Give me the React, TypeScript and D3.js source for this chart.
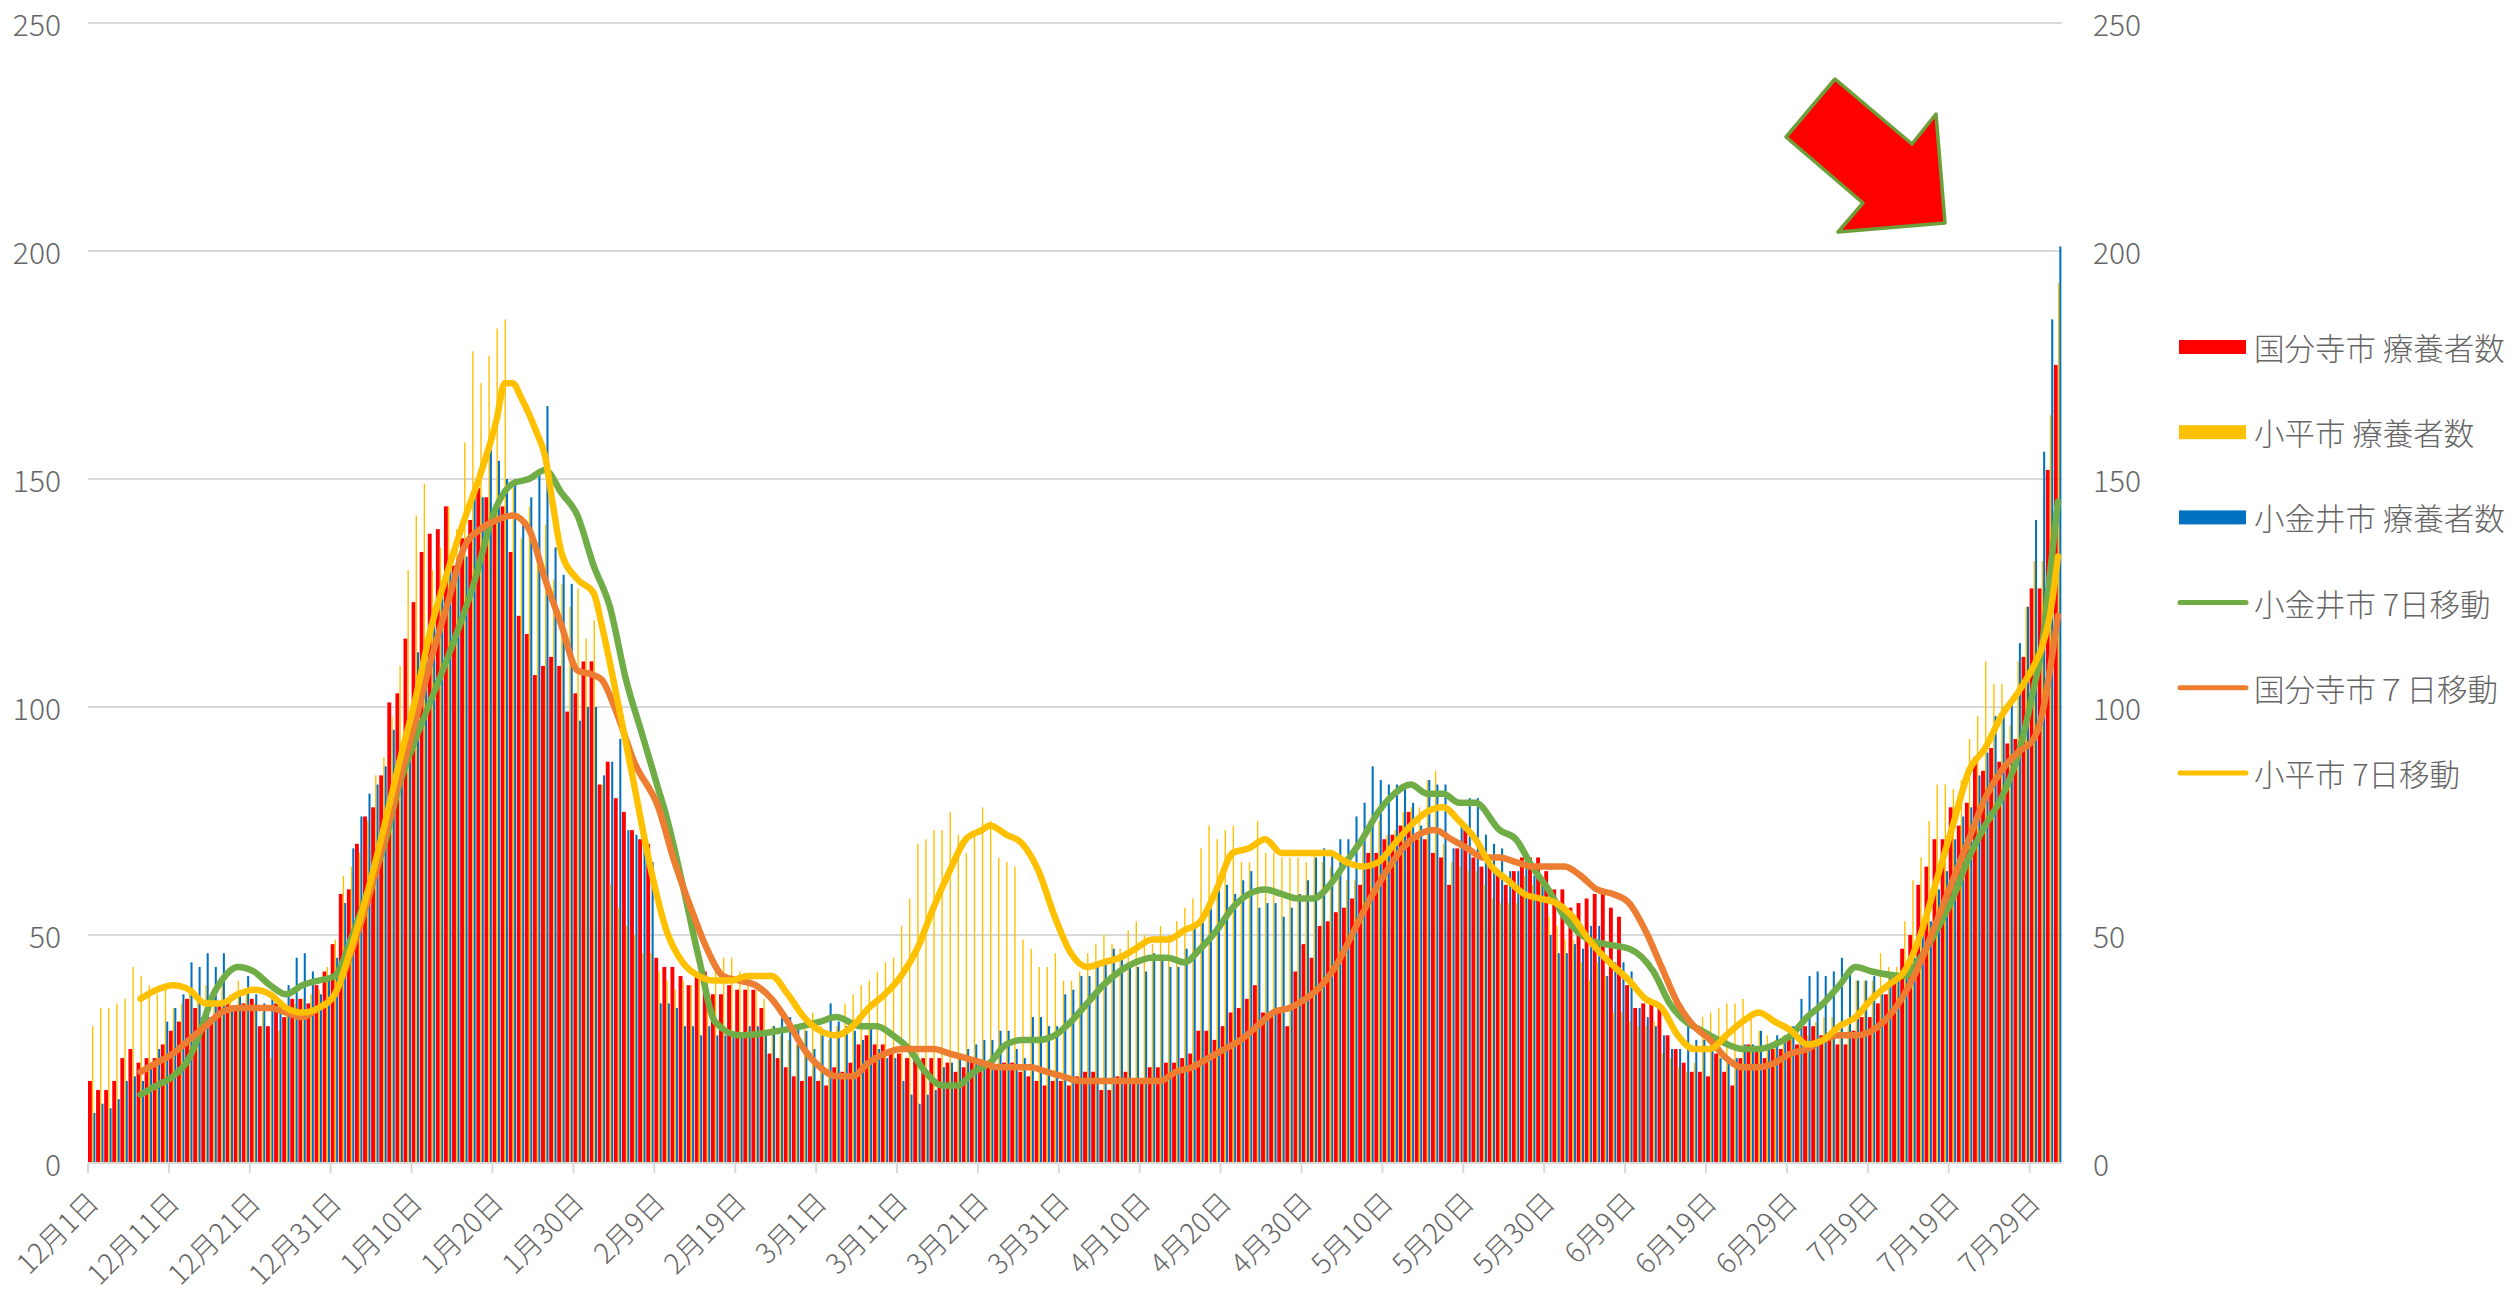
import React from 'react';
import * as d3 from 'd3';

const W = 2517;
const H = 1299;
const START = new Date(2020, 11, 1);
const DAY_COUNT = 244;

// daily counts, Dec 1 2020 .. Aug 1 2021 (one row per month)
const kokubunji = [
  18, 16, 16, 18, 23, 25, 22, 23, 23, 26, 29, 31, 36, 34, 32, 32, 35, 36, 34, 35, 36, 30, 30, 35, 32, 36, 36, 35, 39, 42, 48,
  59, 60, 70, 76, 78, 85, 101, 103, 115, 123, 134, 138, 139, 144, 131, 137, 141, 148, 146, 143, 144, 134, 120, 116, 107, 109, 111, 109, 99, 103, 110,
  110, 83, 88, 80, 77, 73, 71, 70, 45, 43, 43, 41, 39, 41, 42, 37, 37, 39, 38, 38, 38, 34, 24, 23, 21, 19, 18, 19,
  18, 17, 21, 20, 22, 26, 28, 26, 26, 25, 24, 23, 23, 23, 23, 23, 22, 20, 21, 23, 22, 21, 21, 22, 22, 20, 19, 18, 17, 18, 18,
  17, 19, 20, 20, 16, 16, 19, 20, 18, 18, 21, 21, 22, 22, 23, 24, 29, 29, 27, 30, 33, 34, 36, 39, 33, 33, 33, 30, 42, 48,
  45, 52, 53, 55, 56, 58, 61, 68, 68, 71, 72, 74, 77, 71, 71, 68, 67, 61, 69, 73, 67, 65, 65, 64, 61, 64, 67, 67, 67, 64, 60,
  60, 56, 57, 58, 59, 60, 56, 54, 39, 34, 35, 35, 35, 28, 25, 22, 20, 20, 19, 24, 20, 17, 23, 26, 25, 23, 25, 25, 28, 26,
  30, 30, 28, 27, 26, 26, 29, 32, 32, 35, 37, 41, 47, 50, 61, 65, 71, 71, 78, 74, 79, 89, 86, 91, 88, 92, 93, 111, 126, 126, 152,
  175,
];

const kodaira = [
  30, 34, 34, 35, 36, 43, 41, 39, 37, 39, 34, 35, 38, 36, 39, 37, 40, 37, 40, 38, 35, 33, 23, 29, 34, 35, 36, 37, 38, 43, 49,
  63, 65, 68, 75, 85, 89, 98, 109, 130, 142, 149, 130, 135, 144, 139, 158, 178, 171, 177, 183, 185, 148, 137, 144, 136, 140, 128, 127, 122, 126, 115,
  119, 83, 61, 56, 52, 50, 46, 46, 42, 40, 38, 40, 39, 41, 40, 43, 45, 45, 42, 40, 38, 36, 30, 28, 27, 26, 30, 33,
  30, 27, 30, 35, 37, 39, 40, 42, 44, 45, 52, 58, 70, 71, 73, 73, 77, 72, 68, 73, 78, 75, 67, 66, 65, 49, 47, 43, 43, 46, 40,
  40, 42, 46, 48, 50, 48, 47, 51, 53, 50, 48, 52, 50, 53, 56, 58, 69, 74, 71, 73, 74, 66, 66, 75, 68, 68, 67, 67, 67, 66,
  68, 66, 65, 64, 62, 62, 70, 73, 75, 72, 73, 77, 78, 78, 84, 86, 70, 66, 65, 64, 64, 61, 58, 57, 57, 57, 63, 61, 62, 54, 52,
  49, 49, 44, 40, 44, 41, 33, 33, 31, 30, 30, 31, 24, 23, 21, 20, 22, 32, 33, 34, 35, 35, 36, 32, 29, 28, 27, 28, 30, 28,
  28, 31, 32, 32, 31, 30, 40, 40, 40, 46, 43, 43, 53, 62, 67, 75, 83, 83, 82, 84, 93, 98, 110, 105, 105, 96, 110, 122, 132, 132, 164,
  193,
];

const koganei = [
  11, 13, 12, 14, 18, 19, 18, 21, 25, 31, 34, 37, 44, 43, 46, 43, 46, 34, 37, 41, 37, 35, 37, 35, 39, 45, 46, 42, 37, 40, 45,
  57, 69, 76, 81, 83, 87, 95, 89, 99, 112, 113, 121, 126, 130, 131, 133, 147, 146, 157, 154, 150, 150, 141, 146, 151, 166, 135, 129, 127, 97, 100,
  100, 85, 88, 93, 73, 72, 70, 66, 35, 35, 34, 30, 30, 28, 30, 28, 28, 28, 28, 30, 30, 28, 30, 32, 32, 30, 29, 25,
  28, 35, 31, 30, 29, 27, 30, 25, 23, 23, 18, 15, 13, 15, 16, 21, 22, 23, 25, 26, 27, 27, 29, 29, 25, 23, 32, 32, 30, 30, 37,
  38, 41, 41, 43, 44, 47, 45, 43, 43, 42, 46, 45, 43, 43, 47, 52, 54, 57, 61, 61, 59, 62, 64, 56, 57, 57, 54, 56, 59, 62,
  67, 69, 68, 71, 71, 76, 79, 87, 84, 83, 83, 82, 79, 74, 84, 83, 83, 69, 74, 80, 80, 72, 70, 69, 64, 64, 67, 63, 61, 50, 46,
  46, 48, 47, 52, 52, 41, 44, 44, 42, 34, 32, 30, 28, 25, 25, 30, 27, 27, 25, 23, 23, 23, 26, 26, 29, 26, 28, 28, 30, 36,
  41, 42, 41, 42, 45, 43, 40, 40, 41, 37, 41, 41, 43, 45, 50, 53, 60, 64, 71, 76, 78, 85, 90, 98, 100, 102, 114, 122, 141, 156, 185,
  201,
];

// 7-day moving averages, read at points along each curve
const koganeiMA: [string, number][] = [
  ['12/7', 15], ['12/9', 17], ['12/11', 19], ['12/13', 23], ['12/14', 27], ['12/16', 37], ['12/17', 40], ['12/19', 43],
  ['12/21', 42], ['12/23', 39], ['12/25', 37], ['12/27', 39], ['12/29', 40], ['12/31', 41], ['1/2', 49], ['1/4', 59],
  ['1/6', 69], ['1/8', 83], ['1/10', 93], ['1/12', 102], ['1/14', 111], ['1/17', 126], ['1/20', 144], ['1/22', 149],
  ['1/24', 150], ['1/26', 152], ['1/28', 147], ['1/30', 142], ['2/1', 131], ['2/3', 122], ['2/5', 106], ['2/7', 94],
  ['2/9', 82], ['2/10', 76], ['2/12', 61], ['2/14', 45], ['2/16', 31], ['2/19', 28], ['2/24', 29], ['3/1', 31],
  ['3/3', 32], ['3/6', 30], ['3/8', 30], ['3/10', 28], ['3/12', 25], ['3/14', 20], ['3/16', 17], ['3/18', 17],
  ['3/20', 20], ['3/22', 22], ['3/24', 26], ['3/26', 27], ['3/28', 27], ['3/30', 28], ['4/1', 31], ['4/3', 35],
  ['4/5', 39], ['4/7', 42], ['4/9', 44], ['4/11', 45], ['4/13', 45], ['4/15', 44], ['4/17', 47], ['4/19', 51],
  ['4/21', 56], ['4/23', 59], ['4/25', 60], ['4/27', 59], ['4/29', 58], ['5/1', 58], ['5/3', 61], ['5/5', 66],
  ['5/7', 71], ['5/9', 77], ['5/11', 81], ['5/13', 83], ['5/15', 81], ['5/17', 81], ['5/19', 79], ['5/21', 79],
  ['5/24', 73], ['5/26', 71], ['5/28', 65], ['5/30', 60], ['6/1', 54], ['6/4', 49], ['6/6', 48], ['6/9', 47],
  ['6/12', 42], ['6/14', 35], ['6/16', 31], ['6/18', 29], ['6/20', 27], ['6/23', 25], ['6/25', 25], ['6/27', 26],
  ['6/29', 28], ['7/1', 32], ['7/3', 35], ['7/5', 39], ['7/7', 43], ['7/9', 42], ['7/13', 41], ['7/15', 45],
  ['7/17', 51], ['7/19', 58], ['7/21', 67], ['7/23', 74], ['7/25', 80], ['7/27', 89], ['7/29', 104], ['7/30', 113],
  ['7/31', 129], ['8/1', 145],
];

const kokubunjiMA: [string, number][] = [
  ['12/7', 20], ['12/9', 22], ['12/11', 24], ['12/13', 27], ['12/15', 30], ['12/17', 33], ['12/19', 34], ['12/21', 34],
  ['12/23', 34], ['12/25', 33], ['12/27', 32], ['12/29', 34], ['12/31', 37], ['1/2', 46], ['1/4', 57], ['1/6', 70],
  ['1/8', 84], ['1/10', 97], ['1/12', 111], ['1/14', 123], ['1/16', 135], ['1/18', 139], ['1/20', 141], ['1/22', 142],
  ['1/24', 139], ['1/26', 128], ['1/28', 118], ['1/30', 108], ['2/1', 107], ['2/2', 106], ['2/4', 98], ['2/6', 88],
  ['2/9', 78], ['2/11', 66], ['2/13', 56], ['2/15', 47], ['2/17', 41], ['2/19', 40], ['2/21', 39], ['2/23', 36],
  ['2/25', 31], ['2/27', 25], ['3/1', 21], ['3/3', 19], ['3/5', 19], ['3/7', 22], ['3/9', 24], ['3/11', 25],
  ['3/13', 25], ['3/15', 25], ['3/17', 24], ['3/19', 23], ['3/21', 22], ['3/23', 21], ['3/25', 21], ['3/27', 21],
  ['3/29', 20], ['3/31', 19], ['4/2', 18], ['4/5', 18], ['4/8', 18], ['4/10', 18], ['4/12', 18], ['4/14', 20],
  ['4/16', 21], ['4/18', 23], ['4/20', 25], ['4/22', 27], ['4/24', 30], ['4/26', 33], ['4/28', 34], ['4/30', 36],
  ['5/2', 39], ['5/4', 44], ['5/6', 51], ['5/8', 58], ['5/10', 64], ['5/12', 69], ['5/14', 72], ['5/16', 73],
  ['5/18', 71], ['5/20', 69], ['5/22', 67], ['5/24', 67], ['5/26', 66], ['5/28', 65], ['5/30', 65], ['6/1', 65],
  ['6/3', 63], ['6/5', 60], ['6/7', 59], ['6/9', 57], ['6/11', 51], ['6/13', 43], ['6/15', 35], ['6/17', 30],
  ['6/19', 27], ['6/21', 23], ['6/23', 21], ['6/25', 21], ['6/27', 22], ['6/29', 24], ['7/1', 25], ['7/3', 27],
  ['7/5', 28], ['7/7', 28], ['7/9', 29], ['7/11', 32], ['7/13', 37], ['7/15', 44], ['7/17', 53], ['7/19', 62],
  ['7/21', 71], ['7/23', 80], ['7/25', 86], ['7/27', 90], ['7/29', 93], ['7/30', 98], ['7/31', 108], ['8/1', 120],
];

const kodairaMA: [string, number][] = [
  ['12/7', 36], ['12/9', 38], ['12/11', 39], ['12/13', 38], ['12/15', 35], ['12/17', 35], ['12/19', 37], ['12/21', 38],
  ['12/23', 37], ['12/25', 34], ['12/27', 33], ['12/29', 34], ['12/31', 37], ['1/2', 47], ['1/4', 59], ['1/6', 73],
  ['1/8', 88], ['1/10', 102], ['1/12', 118], ['1/14', 130], ['1/16', 141], ['1/18', 151], ['1/20', 163], ['1/21', 171],
  ['1/22', 171], ['1/23', 168], ['1/25', 160], ['1/26', 155], ['1/27', 144], ['1/28', 134], ['1/30', 128], ['2/1', 125],
  ['2/2', 118], ['2/4', 101], ['2/6', 83], ['2/8', 65], ['2/10', 51], ['2/12', 44], ['2/14', 41], ['2/16', 40],
  ['2/18', 40], ['2/20', 41], ['2/23', 41], ['2/25', 37], ['2/27', 32], ['3/1', 29], ['3/3', 28], ['3/5', 30],
  ['3/7', 34], ['3/9', 37], ['3/11', 41], ['3/13', 47], ['3/15', 56], ['3/17', 64], ['3/19', 71], ['3/21', 73],
  ['3/22', 74], ['3/24', 72], ['3/26', 70], ['3/28', 64], ['3/30', 54], ['4/1', 46], ['4/3', 43], ['4/5', 44],
  ['4/7', 45], ['4/9', 47], ['4/11', 49], ['4/13', 49], ['4/15', 51], ['4/17', 53], ['4/19', 60], ['4/21', 68],
  ['4/23', 69], ['4/25', 71], ['4/27', 68], ['4/29', 68], ['5/1', 68], ['5/3', 68], ['5/5', 66], ['5/7', 65],
  ['5/9', 66], ['5/11', 70], ['5/13', 74], ['5/15', 77], ['5/17', 78], ['5/19', 75], ['5/21', 71], ['5/23', 65],
  ['5/25', 62], ['5/27', 59], ['5/29', 58], ['5/31', 57], ['6/2', 54], ['6/4', 49], ['6/6', 45], ['6/9', 40],
  ['6/11', 36], ['6/13', 34], ['6/15', 28], ['6/17', 25], ['6/19', 25], ['6/21', 28], ['6/23', 31], ['6/25', 33],
  ['6/27', 31], ['6/29', 29], ['7/1', 26], ['7/3', 27], ['7/5', 30], ['7/7', 32], ['7/9', 36], ['7/11', 39],
  ['7/13', 42], ['7/15', 50], ['7/17', 62], ['7/19', 74], ['7/21', 86], ['7/23', 91], ['7/25', 98], ['7/27', 103],
  ['7/29', 109], ['7/30', 113], ['7/31', 120], ['8/1', 133],
];

const yTicks = [0, 50, 100, 150, 200, 250];

const legendItems = [
  { label: '国分寺市 療養者数', color: '#FF0000', kind: 'bar' },
  { label: '小平市 療養者数', color: '#FFC000', kind: 'bar' },
  { label: '小金井市 療養者数', color: '#0070C0', kind: 'bar' },
  { label: '小金井市 7日移動', color: '#70AD47', kind: 'line' },
  { label: '国分寺市７日移動', color: '#ED7D31', kind: 'line' },
  { label: '小平市 7日移動', color: '#FFC000', kind: 'line' },
];

const FONT = '"Noto Sans CJK JP", "Noto Sans", sans-serif';
const TEXT = '#666666';

const days = d3.timeDay.range(START, d3.timeDay.offset(START, DAY_COUNT));

function dayIndex(md: string) {
  const [m, d] = md.split('/').map(Number);
  const date = new Date(m === 12 ? 2020 : 2021, m - 1, d);
  return d3.timeDay.count(START, date);
}

export default function App() {
  const margin = { top: 23, right: 455, bottom: 136, left: 88 };
  const x = d3
    .scaleBand<number>()
    .domain(d3.range(DAY_COUNT))
    .range([margin.left, W - margin.right])
    .padding(0);
  const bw = x.bandwidth();
  const y = d3.scaleLinear().domain([0, 250]).range([H - margin.bottom, margin.top]);

  const line = d3
    .line<[string, number]>()
    .x((d) => (x(dayIndex(d[0])) as number) + bw / 2)
    .y((d) => y(d[1]))
    .curve(d3.curveMonotoneX);

  const barSeries = [
    { data: kokubunji, color: '#FF0000', off: 0, w: 0.48 },
    { data: kodaira, color: '#FFC000', off: 0.49, w: 0.17 },
    { data: koganei, color: '#0070C0', off: 0.67, w: 0.25 },
  ];

  const lineSeries = [
    { data: koganeiMA, color: '#70AD47' },
    { data: kokubunjiMA, color: '#ED7D31' },
    { data: kodairaMA, color: '#FFC000' },
  ];

  const tickDays = d3.range(0, DAY_COUNT, 10);
  const fmt = d3.timeFormat('%-m月%-d日');
  const x0 = margin.left;
  const x1 = W - margin.right;

  return (
    <svg
      width={W}
      height={H}
      style={{ position: 'absolute', left: 0, top: 0, background: '#fff' }}
      fontFamily={FONT}
      fontWeight={300}
    >
      {/* grid */}
      {yTicks.slice(1).map((t) => (
        <line key={t} x1={x0} x2={x1} y1={y(t)} y2={y(t)} stroke="#d9d9d9" strokeWidth={2} />
      ))}

      {/* bars */}
      {barSeries.map((s, si) => (
        <g key={si} fill={s.color}>
          {s.data.map((v, i) => (
            <rect
              key={i}
              x={(x(i) as number) + bw * s.off}
              y={y(v)}
              width={bw * s.w}
              height={y(0) - y(v)}
            />
          ))}
        </g>
      ))}

      {/* x axis */}
      <line x1={x0} x2={x1} y1={y(0)} y2={y(0)} stroke="#d9d9d9" strokeWidth={2} />
      {tickDays.map((i) => {
        const tx = x(i) as number;
        return (
          <g key={i}>
            <line x1={tx} x2={tx} y1={y(0)} y2={y(0) + 10} stroke="#d9d9d9" strokeWidth={2} />
            <text
              transform={`translate(${tx + 4},${y(0) + 33}) rotate(-45)`}
              textAnchor="end"
              dominantBaseline="central"
              fontSize={28}
              fill={TEXT}
            >
              {fmt(days[i])}
            </text>
          </g>
        );
      })}

      {/* moving average lines */}
      {lineSeries.map((s, si) => (
        <path
          key={si}
          d={line(s.data) as string}
          fill="none"
          stroke={s.color}
          strokeWidth={6.5}
          strokeLinejoin="round"
          strokeLinecap="round"
        />
      ))}

      {/* y axes */}
      {yTicks.map((t) => (
        <g key={t} fontSize={30} fill={TEXT}>
          <text x={61} y={y(t)} textAnchor="end" dominantBaseline="central">
            {t}
          </text>
          <text x={2093} y={y(t)} textAnchor="start" dominantBaseline="central">
            {t}
          </text>
        </g>
      ))}

      {/* legend */}
      {legendItems.map((it, i) => {
        const cy = 347 + i * 85.2;
        return (
          <g key={it.label}>
            {it.kind === 'bar' ? (
              <rect x={2179} y={cy - 7} width={67} height={14} fill={it.color} />
            ) : (
              <line
                x1={2180}
                x2={2246}
                y1={cy}
                y2={cy}
                stroke={it.color}
                strokeWidth={5}
                strokeLinecap="round"
              />
            )}
            <text x={2254} y={cy} dominantBaseline="central" fontSize={30.5} fill={TEXT}>
              {it.label}
            </text>
          </g>
        );
      })}

      {/* annotation arrow */}
      <path
        d="M1835,79 L1912,144 L1936,114 L1945,223 L1838,232 L1863,203 L1786,137 Z"
        fill="#FF0000"
        stroke="#6E9E3A"
        strokeWidth={3.5}
        strokeLinejoin="round"
      />
    </svg>
  );
}
